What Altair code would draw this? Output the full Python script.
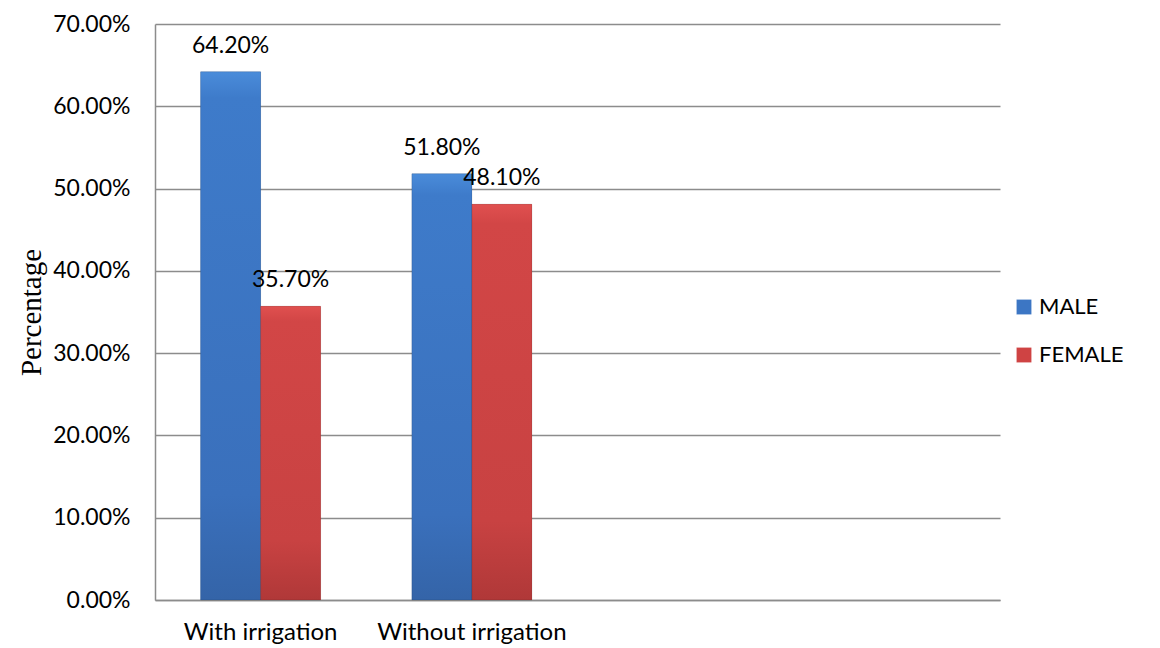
import altair as alt
import pandas as pd

categories = ["With irrigation", "Without irrigation"]
blank_slots = [" ", "  "]
series = ["MALE", "FEMALE"]
male = [0.642, 0.518]
female = [0.357, 0.481]
colors = ["#3c76c4", "#cf4343"]
gradient_stops = {
    "MALE": ["#4a8cda", "#3e7bca", "#3a70bc", "#3464a8"],
    "FEMALE": ["#e0504f", "#d24646", "#c84242", "#b03838"],
}

rows = []
for i, c in enumerate(categories):
    rows.append({"cat": c, "sex": "MALE", "value": male[i]})
    rows.append({"cat": c, "sex": "FEMALE", "value": female[i]})
df = pd.DataFrame(rows)

FONT = "Lato"

x_enc = alt.X(
    "cat:N",
    sort=categories + blank_slots,
    scale=alt.Scale(domain=categories + blank_slots, paddingInner=0.432, paddingOuter=0.216),
    axis=alt.Axis(
        title=None, labelAngle=0, labelFont=FONT, labelFontSize=24, labelColor="#000000",
        labelPadding=20, labelLimit=0, ticks=False, domainColor="#8c8c8c", domainWidth=1.5, grid=False,
    ),
)
xo_enc = alt.XOffset("sex:N", sort=series, scale=alt.Scale(domain=series, paddingInner=0, paddingOuter=0))

base = alt.Chart(df)

bars = base.mark_bar().encode(
    x=x_enc,
    xOffset=xo_enc,
    y=alt.Y(
        "value:Q",
        scale=alt.Scale(domain=[0, 0.7], nice=False),
        axis=alt.Axis(
            title="Percentage", titleFont="Liberation Serif", titleFontSize=29, titleFontWeight="normal",
            titleColor="#000000", titlePadding=6,
            format=".2%", values=[0, 0.1, 0.2, 0.3, 0.4, 0.5, 0.6, 0.7], labelFont=FONT, labelFontSize=23,
            labelColor="#000000", labelPadding=25, ticks=False, domainColor="#8c8c8c", domainWidth=1.5,
            gridColor="#8c8c8c", gridWidth=1.5,
        ),
    ),
    color=alt.Color(
        "sex:N",
        sort=series,
        scale=alt.Scale(domain=series, range=colors),
        legend=alt.Legend(
            title=None, orient="none", legendX=858, legendY=272, symbolType="square",
            symbolSize=220, symbolStrokeWidth=0, labelFont=FONT, labelFontSize=22,
            labelColor="#000000", rowPadding=26, labelOffset=4,
        ),
    ),
)

overlays = []
for s in series:
    st = gradient_stops[s]
    grad = alt.LinearGradient(
        gradient="linear",
        stops=[
            alt.GradientStop(color=st[0], offset=0),
            alt.GradientStop(color=st[1], offset=0.05),
            alt.GradientStop(color=st[2], offset=0.8),
            alt.GradientStop(color=st[3], offset=1),
        ],
        x1=0, x2=0, y1=0, y2=1,
    )
    overlays.append(
        base.transform_filter(alt.datum.sex == s)
        .mark_bar(color=grad, stroke="#000000", strokeWidth=1, strokeOpacity=0.12)
        .encode(x=x_enc, xOffset=xo_enc, y=alt.Y("value:Q"))
    )

labels = base.mark_text(font=FONT, fontSize=23, color="#000000", baseline="alphabetic", dy=-19).encode(
    x=x_enc,
    xOffset=xo_enc,
    y=alt.Y("value:Q"),
    text=alt.Text("value:Q", format=".2%"),
)

chart = (
    alt.layer(bars, *overlays, labels)
    .properties(
        width=845,
        height=576,
        padding={"left": 155, "top": 24, "right": 160, "bottom": 48},
        autosize="none",
        background="#ffffff",
    )
    .configure_view(stroke=None)
)

chart.save("out.html", embed_options={"renderer": "svg", "actions": False})
